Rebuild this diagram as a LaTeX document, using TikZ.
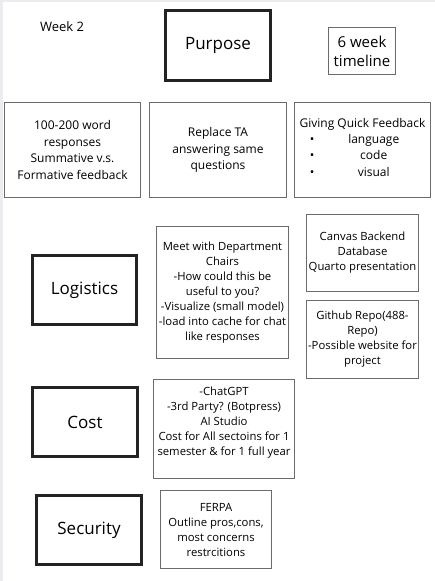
\documentclass[tikz,border=0pt]{standalone}
\usepackage{fontspec}
\setmainfont{Open Sans}
\usepackage{xcolor}
\usepackage{tikz}

\definecolor{edgegray}{HTML}{EBEBF0}
\definecolor{framegray}{HTML}{6B6B6B}
\definecolor{framedark}{HTML}{232323}

\tikzset{
  topicbox/.style={draw=framedark, line width=2.6pt, inner sep=0pt, font=\fontsize{17}{20}\selectfont},
  notebox/.style={draw=framegray, line width=1.1pt, inner sep=0pt, align=center, font=\fontsize{12}{16.5}\selectfont},
  smallnote/.style={notebox, font=\fontsize{11.3}{15}\selectfont}
}

\begin{document}
\begin{tikzpicture}[x=1pt, y=-1pt]
    \useasboundingbox (0,0) rectangle (435,581);
    % page edges
    \fill[edgegray] (0,0) rectangle (3,581);
    \fill[edgegray] (0,0) rectangle (435,1.5);

    % Top row
    \node (week) at (62,27) {\fontsize{13}{15}\selectfont Week 2};
    \node[topicbox, minimum width=105pt, minimum height=70pt] (purpose) at (218,45.5) {Purpose};
    \node[notebox, minimum width=67pt, minimum height=47pt, font=\fontsize{15}{19}\selectfont] (timeline) at (362,51) {6 week\\timeline};

    % Purpose details
    \node[notebox, minimum width=136pt, minimum height=95pt] (responses) at (72.5,150) {100-200 word\\responses\\Summative v.s.\\Formative feedback};
    \node[notebox, minimum width=137pt, minimum height=95pt] (replace) at (218,150) {Replace TA\\answering same\\questions};
    \node[notebox, minimum width=136pt, minimum height=95pt] (feedback) at (362.5,150) {Giving Quick Feedback\\
        \hspace*{-16pt}\begin{tabular}{@{}c@{\hspace{34pt}}c@{}}
        \textbullet & language\\
        \textbullet & code\\
        \textbullet & visual
        \end{tabular}};

    % Logistics
    \node[topicbox, minimum width=104pt, minimum height=69pt] (logistics) at (84.5,290) {Logistics};
    \node[smallnote, minimum width=132pt, minimum height=132pt] (chairs) at (222.5,292.5) {Meet with Department\\Chairs\\-How could this be\\useful to you?\\-Visualize (small model)\\-load into cache for chat\\like responses};
    \node[smallnote, minimum width=112pt, minimum height=77pt] (canvas) at (362.5,253) {Canvas Backend\\Database\\Quarto presentation};
    \node[smallnote, minimum width=112pt, minimum height=78pt] (github) at (362.5,339.5) {Github Repo(488-\\Repo)\\-Possible website for\\project};

    % Cost
    \node[topicbox, minimum width=105pt, minimum height=69pt] (cost) at (85,422) {Cost};
    \node[smallnote, minimum width=141pt, minimum height=99pt] (tools) at (224,429) {-ChatGPT\\-3rd Party? (Botpress)\\AI Studio\\Cost for All sectoins for 1\\semester \& for 1 full year\\ \mbox{}};

    % Security
    \node[topicbox, minimum width=105pt, minimum height=69pt] (security) at (89,530) {Security};
    \node[smallnote, minimum width=111pt, minimum height=78pt] (ferpa) at (216,529.5) {FERPA\\Outline pros,cons,\\most concerns\\restrcitions};
\end{tikzpicture}
\end{document}
